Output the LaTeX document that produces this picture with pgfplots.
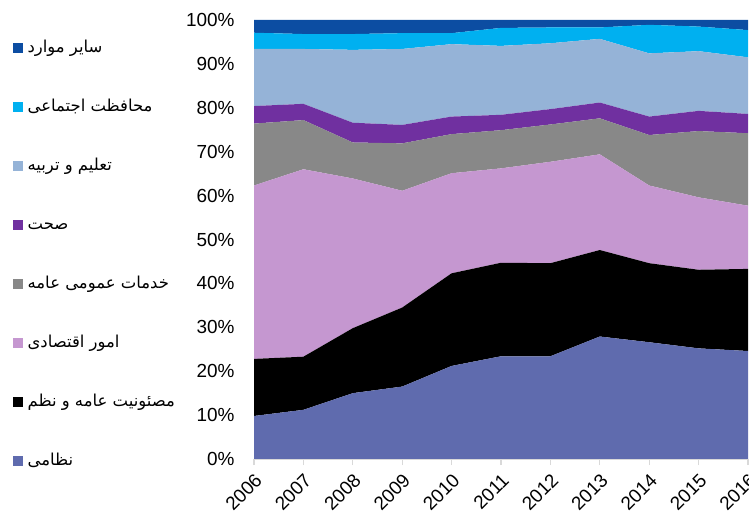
\documentclass[border=0pt]{standalone}
\usepackage{fontspec}
\setmainfont{Liberation Sans}
\newfontfamily\arabicfont[Script=Arabic]{DejaVu Sans}
\TeXXeTstate=1
\usepackage{pgfplots}
\pgfplotsset{compat=1.18}
\usepackage{pgfplotstable}

\definecolor{cMil}{HTML}{5F6BAE}
\definecolor{cOrd}{HTML}{000000}
\definecolor{cEco}{HTML}{C597D0}
\definecolor{cGen}{HTML}{888888}
\definecolor{cHea}{HTML}{7030A0}
\definecolor{cEdu}{HTML}{95B3D7}
\definecolor{cSoc}{HTML}{00B0F0}
\definecolor{cOth}{HTML}{0C4DA2}
\definecolor{axgray}{HTML}{D9D9D9}

% shares in percent, one column per sector
\pgfplotstableread{
year mil ord eco gen hea edu soc oth
2006 9.8  13.0 39.5 14.1 4.0 13.0 3.7 2.9
2007 11.2 12.1 42.7 11.2 3.7 12.5 3.4 3.2
2008 15.0 14.8 34.1 8.2  4.5 16.6 3.6 3.2
2009 16.5 18.0 26.6 10.8 4.2 17.3 3.6 3.0
2010 21.2 21.1 22.8 8.9  4.0 16.5 2.5 3.0
2011 23.4 21.3 21.5 8.7  3.5 15.7 4.1 1.8
2012 23.4 21.2 23.1 8.5  3.5 15.0 3.6 1.7
2013 27.9 19.7 21.8 8.2  3.6 14.5 2.6 1.7
2014 26.6 18.0 17.7 11.5 4.2 14.4 6.5 1.1
2015 25.2 17.9 16.5 15.1 4.6 13.6 5.6 1.5
2016 24.6 18.7 14.4 16.5 4.4 12.9 6.2 2.3
}\shares

\begin{document}
\begin{tikzpicture}
\begin{axis}[
  at={(254bp,62bp)}, anchor=south west,
  scale only axis, width=494bp, height=439bp,
  xmin=2006, xmax=2016, ymin=0, ymax=100,
  stack plots=y,
  xtick={2006,...,2016}, ytick={0,10,...,100},
  axis x line*=bottom, axis y line*=left,
  x axis line style={draw=axgray, line width=1.2pt, -},
  y axis line style={draw=none},
  xtick style={draw=axgray, line width=1.2pt},
  ytick style={draw=none},
  tick align=outside, major tick length=6bp,
  /pgf/number format/assume math mode=true,
  x tick label style={/pgf/number format/1000 sep={}, rotate=45, anchor=east,
    font=\fontsize{19}{22}\selectfont, yshift=-12bp, xshift=-2bp},
  y tick label style={font=\fontsize{19}{22}\selectfont, xshift=-10bp},
  yticklabel={\pgfmathprintnumber{\tick}\%},
  reverse legend,
  legend image code/.code={\fill[#1] (0bp,-5bp) rectangle (10bp,5bp);},
  legend style={at={(-0.488,0.958)}, anchor=north west, draw=none, fill=none,
    inner sep=0pt, row sep=40bp, column sep=3bp,
    nodes={font=\fontsize{16.5}{18}\selectfont, inner sep=1.5bp, text height=12bp, text depth=4bp}},
  legend cell align=left,
]
\addplot[fill=cMil, draw=none] table[x=year,y=mil]{\shares} \closedcycle;
\addlegendentry{\arabicfont\beginR نظامی\endR}
\addplot[fill=cOrd, draw=none] table[x=year,y=ord]{\shares} \closedcycle;
\addlegendentry{\arabicfont\beginR مصئونیت عامه و نظم\endR}
\addplot[fill=cEco, draw=none] table[x=year,y=eco]{\shares} \closedcycle;
\addlegendentry{\arabicfont\beginR امور اقتصادی\endR}
\addplot[fill=cGen, draw=none] table[x=year,y=gen]{\shares} \closedcycle;
\addlegendentry{\arabicfont\beginR خدمات عمومی عامه\endR}
\addplot[fill=cHea, draw=none] table[x=year,y=hea]{\shares} \closedcycle;
\addlegendentry{\arabicfont\beginR صحت\endR}
\addplot[fill=cEdu, draw=none] table[x=year,y=edu]{\shares} \closedcycle;
\addlegendentry{\arabicfont\beginR تعلیم و تربیه\endR}
\addplot[fill=cSoc, draw=none] table[x=year,y=soc]{\shares} \closedcycle;
\addlegendentry{\arabicfont\beginR محافظت اجتماعی\endR}
\addplot[fill=cOth, draw=none] table[x=year,y=oth]{\shares} \closedcycle;
\addlegendentry{\arabicfont\beginR سایر موارد\endR}
\end{axis}
\pgfresetboundingbox
\path (0,0) rectangle (749bp,521bp);
\end{tikzpicture}
\end{document}
